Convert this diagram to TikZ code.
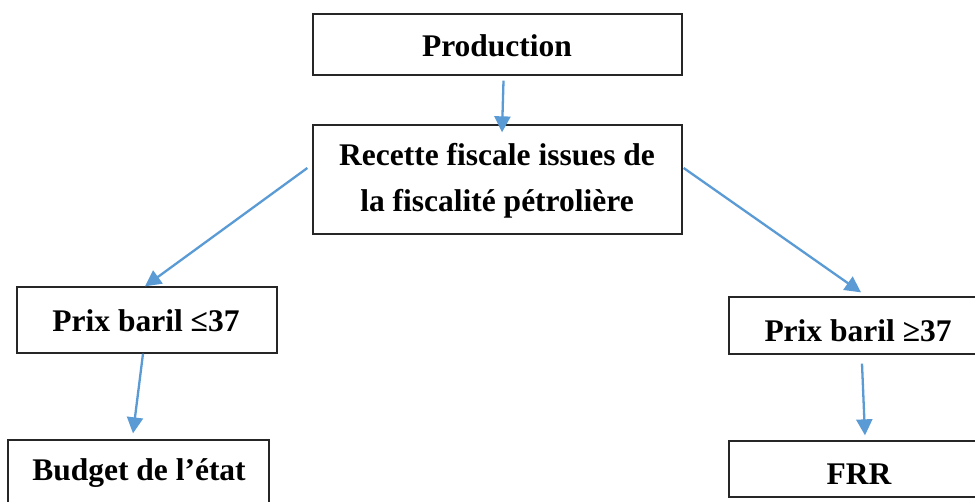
\documentclass[tikz,border=0pt]{standalone}
\usepackage{fontspec}
\setmainfont{Liberation Serif}
\usetikzlibrary{arrows.meta,calc}
\definecolor{arrowblue}{HTML}{5B9BD5}
\tikzset{
  boxnode/.style={draw=black!85, line width=1.3pt, rectangle, inner sep=0pt},
  label/.style={anchor=base, inner sep=0pt, font=\fontsize{31.5}{36}\selectfont\bfseries},
  conn/.style={draw=arrowblue, line width=2.3pt, -{Triangle[length=16pt,width=16pt]}}
}
\begin{document}
\begin{tikzpicture}[x=1pt,y=-1pt]
\clip (0,0) rectangle (975,502);
\fill[white] (0,0) rectangle (975,502);
% boxes
\node[boxnode, minimum width=369pt, minimum height=61pt] (prod) at (497.5,44.5) {};
\node[boxnode, minimum width=369pt, minimum height=109pt] (rec) at (497.5,179.5) {};
\node[boxnode, minimum width=260pt, minimum height=66pt] (pl) at (147,320) {};
\node[boxnode, minimum width=258pt, minimum height=57pt] (pg) at (858,325.5) {};
\node[boxnode, minimum width=261pt, minimum height=64pt] (bud) at (138.5,472) {};
\node[boxnode, minimum width=258pt, minimum height=56pt] (frr) at (858,469) {};
% texts
\node[label] (tprod) at (497,57) {Production};
\node[label] (trec1) at (497,166) {Recette fiscale issues de};
\node[label] (trec2) at (497,212) {la fiscalité pétrolière};
\node[label] (tpl) at (146,332) {Prix baril ≤37};
\node[label] (tpg) at (858,342) {Prix baril ≥37};
\node[label] (tbud) at (139,481) {Budget de l’état};
\node[label] (tfrr) at (859,485) {FRR};
% connectors
\draw[conn] ($(prod.south)+(6,5)$) -- ($(rec.north)+(4.5,8)$);
\draw[conn] ($(rec.west)+(-5,-11.5)$) -- ($(pl.north)+(-2,0)$);
\draw[conn] ($(rec.east)+(1,-11.5)$) -- ($(pg.north)+(3,-4)$);
\draw[conn] ($(pl.south)+(-4,0)$) -- ($(bud.north)+(-5.5,-6)$);
\draw[conn] ($(pg.south)+(4,9)$) -- ($(frr.north)+(7,-5)$);
\end{tikzpicture}
\end{document}
